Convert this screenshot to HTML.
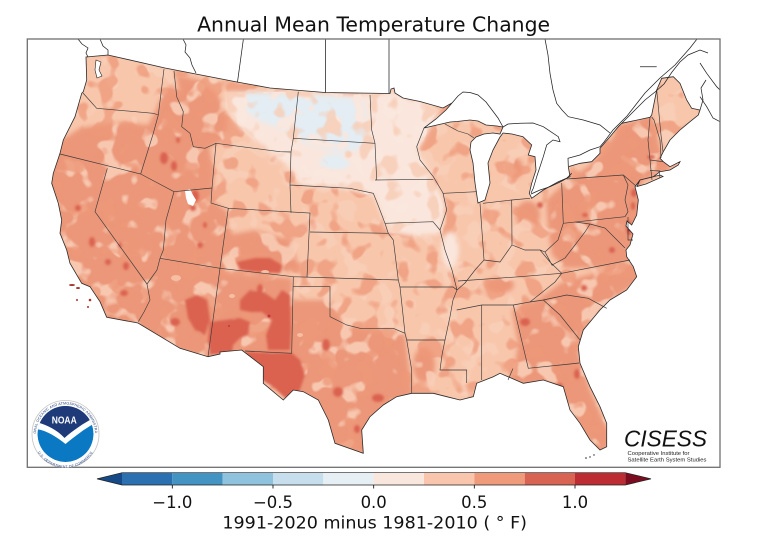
<!DOCTYPE html>
<html><head><meta charset="utf-8"><style>
html,body{margin:0;padding:0;background:#fff;}
svg{display:block;}
</style></head><body>
<svg width="779" height="537" viewBox="0 0 779 537" xmlns="http://www.w3.org/2000/svg">
<defs>
<clipPath id="us"><path id="usp" d="M86,57 L108,55 L165,68 L237,82 L270,88 L325,92.5 L390,93.5 L391,89 L394,88 L395,93 L403,98 L420,101.5 L443,108 L452,103 L446,110 L436,119 L424,128 L437,125 L450,122 L457,121.5 L470,120 L478,121 L486,125 L497,126 L503,127 L500,134 L493,133 L484,134 L476,137 L471,142 L470,150 L473,163 L475,183 L478,203 L485,200 L490,183 L488,163 L493,150 L500,137 L503,133 L512,134 L523,136.7 L531.7,145 L528.3,155 L535,156.7 L536,170 L531.7,183.3 L529.3,193.3 L531.7,198.3 L543.3,190 L558.3,181.7 L570,176.7 L568.3,166.7 L580,163.3 L591.7,161.7 L600,153.3 L600,148.3 L610,136.7 L618.3,126.7 L621.7,123.3 L650,117.3 L651.7,115 L656.7,90 L661.7,78.3 L673.3,76.7 L680,83.3 L686.7,100 L691.7,108.3 L700,110 L698.3,115 L690,121.7 L680,130 L670,140 L663.3,151.7 L660,158.3 L663.3,161.7 L670,166.7 L680,161.7 L678.3,165 L670,170 L660,171.7 L653.3,176.7 L640,180 L635,186.7 L636.7,193.3 L638.3,200 L636.7,215 L631.7,225 L627,221 L626,226 L633,234 L630,245 L626,250 L626.7,256.7 L633.3,266.7 L636.7,276.7 L626.7,290 L610,300 L600,310 L583.3,330 L578.3,346.7 L580,363.3 L590,386.7 L600,406.7 L606.7,423.3 L606.7,446.7 L600,450 L590,440 L580,423.3 L570,410 L563.3,386.7 L543.3,380 L523.3,383.3 L500,373.3 L493.3,376.7 L476.7,383.3 L473.3,396.7 L460,400 L446.7,396.7 L433.3,393.3 L411.7,393.3 L396.7,396.7 L383.3,405 L370,416.7 L361.7,430 L363.3,453.3 L335,443.3 L328.3,420 L318.3,400 L303.3,391.7 L293.3,390 L283.3,400 L263.3,383.3 L263.3,366.7 L241.7,350 L220,352 L220,354 L208,356.7 L180,348.3 L138,323 L106.7,317.3 L100,301.7 L90,286.7 L81.7,283.3 L70,263.3 L66.7,250 L60,233.3 L61.7,220 L58.3,203.3 L51.7,183.3 L53.3,173.3 L60,153.3 L63.3,140 L75,116.7 L81.7,93.3 L83.3,91.7 L86.7,80 Z M640,180 L660,175 L663,176.5 L646,184 L637,186.5 Z"/></clipPath>
<clipPath id="plains"><polygon points="226,92 298,92 370,95 392,92 440,110 430,128 418,150 432,178 446,205 440,234 412,236 388,232 374,196 340,188 300,185 292,170 268,150 240,128 228,110"/></clipPath>
<clipPath id="disc"><circle cx="0" cy="0" r="28"/></clipPath>
<filter id="bl" filterUnits="userSpaceOnUse" x="0" y="0" width="779" height="537"><feGaussianBlur stdDeviation="2.5"/></filter>
<filter id="bl2" filterUnits="userSpaceOnUse" x="0" y="0" width="779" height="537"><feGaussianBlur stdDeviation="1.2"/></filter>
<filter id="t1" filterUnits="userSpaceOnUse" x="0" y="0" width="779" height="537" color-interpolation-filters="sRGB">
<feTurbulence type="fractalNoise" baseFrequency="0.05" numOctaves="2" seed="7"/>
<feColorMatrix type="matrix" values="0 0 0 0 0.976  0 0 0 0 0.812  0 0 0 0 0.725  10 0 0 0 -5.6"/>
</filter>
<filter id="t2" filterUnits="userSpaceOnUse" x="0" y="0" width="779" height="537" color-interpolation-filters="sRGB">
<feTurbulence type="fractalNoise" baseFrequency="0.05" numOctaves="2" seed="23"/>
<feColorMatrix type="matrix" values="0 0 0 0 0.933  0 0 0 0 0.596  0 0 0 0 0.475  10 0 0 0 -5.5"/>
</filter>
<filter id="t3" filterUnits="userSpaceOnUse" x="0" y="0" width="779" height="537" color-interpolation-filters="sRGB">
<feTurbulence type="fractalNoise" baseFrequency="0.05" numOctaves="2" seed="41"/>
<feColorMatrix type="matrix" values="0 0 0 0 0.973  0 0 0 0 0.800  0 0 0 0 0.710  10 0 0 0 -5.6"/>
</filter>
<filter id="t4" filterUnits="userSpaceOnUse" x="0" y="0" width="779" height="537" color-interpolation-filters="sRGB">
<feTurbulence type="fractalNoise" baseFrequency="0.06" numOctaves="2" seed="5"/>
<feColorMatrix type="matrix" values="0 0 0 0 0.980  0 0 0 0 0.905  0 0 0 0 0.865  10 0 0 0 -5.4"/>
</filter>
<path id="ringTop" d="M-29.5,0 A29.5,29.5 0 0 1 29.5,0"/>
<path id="ringBot" d="M-32,2 A32,32 0 0 0 32,2"/>
</defs>

<!-- title -->
<text x="373.6" y="31.5" font-family="'DejaVu Sans','Liberation Sans',sans-serif" font-size="20" text-anchor="middle" textLength="353" lengthAdjust="spacingAndGlyphs" fill="#111">Annual Mean Temperature Change</text>

<!-- map fill -->
<g clip-path="url(#us)">
<rect x="0" y="0" width="779" height="537" fill="#f8c6ab"/>
<g filter="url(#bl)" fill="#ec9779">
<polygon points="40,148 62,140 80,128 100,125 125,122 148,125 155,112 160,100 170,85 182,95 188,112 196,135 210,150 214,175 212,200 228,212 233,240 226,270 218,290 214,330 212,360 170,350 130,335 100,330 45,310"/>
<polygon points="176,75 200,80 218,95 228,118 225,140 205,150 190,135 183,110"/>
<polygon points="228,235 255,230 290,240 300,270 260,275 232,268"/>
<polygon points="215,272 292,278 293,355 240,352 212,356"/>
<polygon points="288,300 330,300 345,325 380,330 405,335 412,392 365,455 330,445 300,400 262,385 240,350 290,352"/>
<polygon points="512,310 540,298 562,282 598,272 633,260 640,280 612,300 585,328 578,352 590,390 612,440 600,458 575,420 560,395 530,385 512,382 518,345"/>
<polygon points="546,200 565,183 590,165 605,148 622,124 652,116 662,155 678,163 642,182 640,210 636,240 636,262 600,268 565,268 552,255 548,230"/>
<ellipse cx="528" cy="215" rx="12" ry="14"/>
<ellipse cx="515" cy="168" rx="8" ry="10"/>
<ellipse cx="424" cy="365" rx="11" ry="18"/>
<ellipse cx="500" cy="285" rx="14" ry="8"/>
</g>
<rect x="0" y="0" width="779" height="537" filter="url(#t1)" opacity="0.85"/>
<rect x="0" y="0" width="779" height="537" filter="url(#t2)" opacity="0.75"/>
<g filter="url(#bl)">
<polygon fill="#fae6dc" points="226,92 298,92 370,95 392,92 440,110 430,128 418,150 432,178 446,205 440,234 412,236 388,232 374,196 340,188 300,185 292,170 268,150 240,128 228,110"/>
<polygon fill="#e3edf3" points="238,92 300,94 345,97 364,102 368,136 358,150 340,152 320,148 300,142 285,130 262,122 245,110"/>
<ellipse fill="#e3edf3" cx="335" cy="162" rx="15" ry="8"/>
<ellipse fill="#fae6dc" cx="450" cy="250" rx="9" ry="18"/>
</g>
<g clip-path="url(#plains)">
<rect x="0" y="0" width="779" height="537" filter="url(#t4)" opacity="0.9"/>
<rect x="0" y="0" width="779" height="537" filter="url(#t3)" opacity="0.8"/>
</g>
<g filter="url(#bl2)" fill="#da6250">
<polygon points="240,300 250,290 265,293 275,300 282,290 290,295 291,330 290,350 268,350 266,335 272,320 262,312 250,312 240,310"/>
<polygon points="210,322 225,320 240,318 250,322 248,335 240,338 233,345 232,353 210,355 208,340"/>
<polygon points="245,352 292,353 300,360 305,375 298,395 285,398 275,388 262,380 252,365"/>
<polygon points="185,300 197,295 207,300 210,320 205,335 195,330 188,318"/>
<polygon points="237,262 255,258 270,258 282,265 280,273 260,272 240,270"/>
<ellipse cx="260" cy="289" rx="3" ry="5"/><ellipse cx="175" cy="322" rx="5" ry="4"/>
<ellipse cx="92" cy="242" rx="3" ry="5"/><ellipse cx="108" cy="262" rx="3" ry="3"/><ellipse cx="124" cy="293" rx="4" ry="3"/>
<ellipse cx="78" cy="208" rx="3" ry="3"/><ellipse cx="85" cy="295" rx="3" ry="2"/><ellipse cx="126" cy="266" rx="3" ry="4"/>
<ellipse cx="120" cy="245" rx="2" ry="3"/><ellipse cx="164" cy="158" rx="4" ry="6"/><ellipse cx="174" cy="166" rx="3" ry="5"/>
<ellipse cx="178" cy="140" rx="2" ry="3"/><ellipse cx="195" cy="196" rx="4" ry="6"/><ellipse cx="193" cy="208" rx="3" ry="3"/>
<ellipse cx="200" cy="245" rx="3" ry="3"/><ellipse cx="205" cy="225" rx="2" ry="3"/>
<ellipse cx="326" cy="345" rx="4" ry="6"/>
<ellipse cx="338" cy="392" rx="5" ry="5"/><ellipse cx="357" cy="429" rx="3" ry="4"/><ellipse cx="378" cy="398" rx="6" ry="4"/>
<ellipse cx="525" cy="322" rx="5" ry="4"/><ellipse cx="560" cy="387" rx="3" ry="4"/><ellipse cx="577" cy="374" rx="3" ry="5"/>
<ellipse cx="584" cy="288" rx="3" ry="3"/><ellipse cx="634" cy="193" rx="3" ry="4"/><ellipse cx="629" cy="228" rx="3" ry="8"/>
<ellipse cx="633" cy="206" rx="2" ry="4"/><ellipse cx="651" cy="157" rx="4" ry="2"/><ellipse cx="612" cy="250" rx="3" ry="3"/>
<ellipse cx="540" cy="205" rx="3" ry="3"/><ellipse cx="585" cy="215" rx="3" ry="2"/>
</g>
<g fill="#f6bea2"><ellipse cx="265" cy="272" rx="4" ry="2"/><ellipse cx="232" cy="296" rx="3" ry="2"/><ellipse cx="300" cy="335" rx="3" ry="2"/><ellipse cx="176" cy="278" rx="5" ry="3"/></g>
<g fill="#c2353a"><circle cx="269" cy="316" r="1.5"/><circle cx="229" cy="326" r="1"/><circle cx="629" cy="230" r="1.5"/></g>
</g>

<!-- islands / lakes -->
<g fill="#a8332f"><ellipse cx="72" cy="285" rx="3" ry="1"/><ellipse cx="78" cy="288" rx="2" ry="1"/><circle cx="77" cy="300" r="1"/><circle cx="90" cy="300" r="1.3"/><circle cx="88" cy="307" r="1"/></g>
<path d="M185,191 L190,189 L193,195 L196,200 L193,206 L188,204 L186,198 Z" fill="#fff"/>
<path d="M96,60 L101,62 L99,70 L102,76 L97,78 L95,70 Z" fill="#fff" stroke="#222" stroke-width="0.6"/>
<g fill="#222"><circle cx="586" cy="458" r="0.8"/><circle cx="590" cy="457" r="0.7"/><circle cx="594" cy="455" r="0.7"/></g>

<!-- state borders -->
<path fill="none" stroke="#3a3a3a" stroke-width="0.65" d="M83,93 L96.7,108.3 L153.3,113.3 L158.3,115
M164,69 L158.3,115 L153.3,133.3 L145,160 L140.7,174
M174,71 L176.7,96.7 L183.3,111.7 L181.7,126.7 L190,133.3 L193.3,146.7 L205,148.3 L216,143.3 L280,151.7 L291,152
M60,154 L140.7,174 L174,191.7 L212,188
M216,143.3 L212,188 L211,203 L228.3,208.3 L310,213 L307,277
M298.3,91.7 L293.3,138.3 L291,152 L290,185 L291,213
M293.3,138.3 L375,143.3
M290,185 L350,188.3 L373.3,193.3 L378,205 L385,223.3 L388.3,233.3 L393.3,240 L398.3,280 L400,287 L405,333.3 L406.7,340 L411.7,370 L411.7,393.3
M370,95 L371.7,130 L375,143.3 L376.7,180 L375,180 L433.3,179.3
M385,223.3 L433,221.7 L440,230
M310,232 L388.3,233.3
M220,268.3 L293.3,276.7 L398.3,280
M293.3,276.7 L291.7,353.3 L245,351
M293,286.7 L330,286.7 L330,316.7 L346.7,325 L360,328.3 L376.7,328.3 L393.3,328.3 L405,333.3
M228.3,208.3 L220,268.3 L208,356.7
M160,258.3 L220,268.3
M174,191.7 L166,220 L163.3,250 L160,258.3 L157,270 L147,284 L150,300 L144,312 L138.3,321.7
M107.3,168.3 L95,211.7 L147,284
M424,128 L416.7,146.7 L420,160 L433.3,176.7 L443,193 L446.7,210 L440,230 L445,250 L452,270 L457,290 L453,300 L450,316.7 L445,340 L442,355 L440,370 L466.7,370 L466.7,383
M400,287 L453,287 L457,290
M406.7,340 L445,340
M443.3,193.3 L476.7,191.7
M445,124 L458,131 L468,134 L474,138
M480,203.3 L483.3,250 L484,260 L475,270 L465,283 L457,290
M483,203.3 L511.7,200 L530,198.3
M511.7,200 L512,245
M484,260 L500,262 L512,245 L525,250 L540,250 L545,252 L558,240 L563.3,223.3
M458,281 L520,276.7 L561.7,273.3 L630,260
M456.7,310 L481.7,305 L513.3,305 L530,302 L545,290 L555,282 L561.7,273.3
M481.7,305 L481.7,380
M513.3,305 L528.3,368.3 L570,364 L579,363
M508,380 L513,368.5
M530,302 L543.3,300 L560,315 L572,330 L580,340
M543.3,300 L566.7,295 L588.3,298.3 L606.7,308.3
M561.7,183 L563.3,223.3 L625,216.7
M566.7,179 L623.3,175 L628,185 L625,200 L628,211.7 L625,216.7
M623.3,175 L636,186
M628,217 L628,240 L633,240
M540,250 L550,262 L561.7,273.3
M545,252 L552,265 L565,258 L575,245 L585,232 L590,224 L575,222
M590,224 L605,228 L615,238 L625,248
M650,117.3 L648,140 L650,160 L652,180
M651.7,117 L654,120 L660,140 L661,158
M656.7,90 L661,135 L663,151.7
M650,160 L663.3,161.7
M650,170.5 L660,171
M659,171 L660,178"/>

<!-- US outline -->
<use href="#usp" fill="none" stroke="#2a2a2a" stroke-width="0.8"/>

<!-- Canada & lakes lines -->
<path fill="none" stroke="#222" stroke-width="0.75" d="M183,39 L186,45 L185,52 L190,58 L192,65 L196,73
M243.4,39 L237.5,82
M325.4,39 L325.4,92.5
M389,39 L389,93.5
M78,39 L82,44 L88,48 L86,53 L88,57
M100,39 L103,46 L108,50 L108,55
M452,103 L458,96 L463,92 L470,92.5 L478,95 L486,102 L492,110 L498,118 L503,127
M503,127 L508,124 L520,123.3 L533,123 L543.3,126.7 L558.3,136.7 L560,141.7 L553,140 L546.7,145 L543.3,156.7 L540,166.7 L536.7,176.7 L533.3,188.3 L531,193
M531,194 L540,190 L550,186.7 L560,182 L566.7,178.3 L571.7,173.3
M568.3,166 L568,158.3 L580,155 L590,150 L600,146.7 L604,142 L613,130 L627,116 L645,93 L660,78 L675,65 L690,48 L697,39
M622,123 L632,113 L645,100 L655,92 L664,84 L672,72 L680,62 L688,55 L700,50 L708,53
M545,39 L548,55 L550,73.3 L553,90 L556.7,103.3 L562,110 L568.3,116.7 L583.3,120 L600,125 L610,133
M640,66.7 L656.7,66.7
M700,63 L706.7,73.3 L716.7,86.7 L720,90
M700,96.7 L706.7,106.7 L713,118 L720,121.7
M700,110 L703,100 L701,88 L706,80"/>

<!-- frame -->
<rect x="27.3" y="39" width="692.7" height="428.3" fill="none" stroke="#6f6f6f" stroke-width="1.3"/>

<!-- NOAA logo -->
<g transform="translate(65.5,434)">
<circle r="33.5" fill="#fff" stroke="#c4c4c4" stroke-width="0.8"/>
<text font-family="'Liberation Sans',sans-serif" font-size="3.6" fill="#1f3d7a" letter-spacing="0.15"><textPath href="#ringTop" startOffset="50%" text-anchor="middle">NATIONAL OCEANIC AND ATMOSPHERIC ADMINISTRATION</textPath></text>
<text font-family="'Liberation Sans',sans-serif" font-size="3.6" fill="#1f3d7a" letter-spacing="0.2"><textPath href="#ringBot" startOffset="50%" text-anchor="middle">U.S. DEPARTMENT OF COMMERCE</textPath></text>
<g clip-path="url(#disc)">
<circle r="28" fill="#0b78c4"/>
<path d="M-30,-30 H30 V-17 C20,-12 8,-4 -1,4 C-8,-4 -20,-10 -30,-12 Z" fill="#1f3a78"/>
<path d="M-30,-12 C-20,-10 -8,-4 -1,4 C8,-4 20,-12 30,-17 V-11 C20,-6 10,2 0,10 C-10,2 -20,-4 -30,-5 Z" fill="#fff"/>
</g>
<text x="-1.3" y="-10.5" font-family="'Liberation Sans',sans-serif" font-weight="bold" font-size="10" fill="#fff" text-anchor="middle" textLength="25" lengthAdjust="spacingAndGlyphs">NOAA</text>
</g>

<!-- CISESS -->
<text x="624" y="446.7" font-family="'Liberation Sans',sans-serif" font-style="italic" font-size="23" fill="#111" textLength="83" lengthAdjust="spacingAndGlyphs">CISESS</text>
<text x="627.5" y="455" font-family="'Liberation Sans',sans-serif" font-size="5.6" fill="#222" textLength="62" lengthAdjust="spacingAndGlyphs">Cooperative Institute for</text>
<text x="627.5" y="461.5" font-family="'Liberation Sans',sans-serif" font-size="5.6" fill="#222" textLength="79" lengthAdjust="spacingAndGlyphs">Satellite Earth System Studies</text>

<!-- colorbar -->
<g>
<polygon points="97,478.9 122,472.7 122,485" fill="#164a87"/>
<rect x="122" y="472.7" width="50.3" height="12.3" fill="#2b70b1"/>
<rect x="172.3" y="472.7" width="50.4" height="12.3" fill="#4393c3"/>
<rect x="222.7" y="472.7" width="50.3" height="12.3" fill="#8fc3dd"/>
<rect x="273" y="472.7" width="50.3" height="12.3" fill="#c7dfec"/>
<rect x="323.3" y="472.7" width="50.4" height="12.3" fill="#e6eff3"/>
<rect x="373.7" y="472.7" width="50.3" height="12.3" fill="#f9e7de"/>
<rect x="424" y="472.7" width="50.3" height="12.3" fill="#f9c5ac"/>
<rect x="474.3" y="472.7" width="50.4" height="12.3" fill="#ef9b7b"/>
<rect x="524.7" y="472.7" width="50.3" height="12.3" fill="#d96352"/>
<rect x="575" y="472.7" width="50.3" height="12.3" fill="#bd2c33"/>
<polygon points="625.3,472.7 651,478.9 625.3,485" fill="#7c0d21"/>
<polygon points="97,478.9 122,472.7 625.3,472.7 651,478.9 625.3,485 122,485" fill="none" stroke="#222" stroke-width="0.7"/>
<path d="M172.3,485 V488.5 M273,485 V488.5 M373.7,485 V488.5 M474.3,485 V488.5 M575,485 V488.5" stroke="#000" stroke-width="0.8"/>
</g>
<g font-family="'DejaVu Sans','Liberation Sans',sans-serif" font-size="16.5" fill="#111" text-anchor="middle">
<text x="172.3" y="508">−1.0</text>
<text x="273" y="508">−0.5</text>
<text x="373.7" y="508">0.0</text>
<text x="474.3" y="508">0.5</text>
<text x="575" y="508">1.0</text>
<text x="374.7" y="528.5" textLength="304.6" lengthAdjust="spacingAndGlyphs">1991-2020 minus 1981-2010 ( ° F)</text>
</g>
</svg>
</body></html>
